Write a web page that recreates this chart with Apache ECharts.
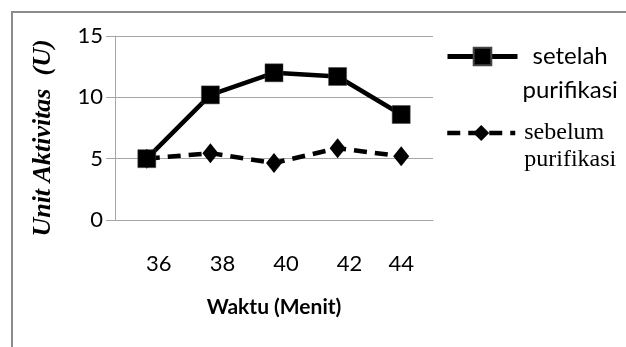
<!DOCTYPE html>
<html lang="id">
<head>
    <meta charset="UTF-8">
    <title>Unit Aktivitas</title>
    <script src="https://cdn.jsdelivr.net/npm/echarts@6/dist/echarts.min.js"></script>
    <style>
        html, body { margin: 0; padding: 0; background: #fff; }
        #chart { width: 626px; height: 347px; }
    </style>
</head>
<body>
    <div id="chart"></div>
    <script>
        // data
        const waktu = ['36', '38', '40', '42', '44'];
        const setelah = [5.0, 10.2, 12.0, 11.7, 8.6];
        const sebelum = [5.0, 5.45, 4.65, 5.85, 5.2];
        const yTicks = [0, 5, 10, 15];

        const gray = '#a6a6a6';
        const myEchart = echarts.init(document.querySelector('#chart'));

        const option = {
            animation: false,
            // outer frame
            graphic: [{
                type: 'rect',
                shape: { x: 12, y: 12, width: 700, height: 400 },
                style: { fill: 'none', stroke: '#8c8c8c', lineWidth: 2 },
                silent: true
            }],
            grid: { left: 115, top: 36, right: 193, bottom: 127 },
            legend: [
                {
                    left: 445, top: 10.5, padding: 0,
                    itemWidth: 70, itemHeight: 22,
                    data: ['setelah purifikasi'],
                    lineStyle: { width: 5 },
                    // blank first line so the icon lines up with "setelah"
                    formatter: name => '{c| }\n' + name.split(' ').map(s => '{c|' + s + '}').join('\n'),
                    textStyle: {
                        rich: {
                            c: { fontFamily: 'Lato', fontSize: 24, lineHeight: 34, color: '#000', align: 'center' }
                        }
                    }
                },
                {
                    left: 445, top: 94, padding: 0,
                    itemWidth: 68, itemHeight: 20,
                    data: ['sebelum purifikasi'],
                    lineStyle: { width: 4.5 },
                    formatter: name => '{c| }\n' + name.split(' ').map(s => '{c|' + s + '}').join('\n'),
                    textStyle: {
                        rich: {
                            c: { fontFamily: 'Liberation Serif', fontSize: 24, lineHeight: 27, color: '#000', padding: [0, 0, 0, 4] }
                        }
                    }
                }
            ],
            xAxis: {
                type: 'category',
                data: waktu,
                boundaryGap: true,
                name: 'Waktu (Menit)',
                nameLocation: 'middle',
                nameGap: 77,
                nameTextStyle: { fontFamily: 'Lato', fontWeight: 'bold', fontSize: 21, color: '#000' },
                axisLine: { lineStyle: { color: gray, width: 1 } },
                axisTick: { show: false },
                axisLabel: {
                    interval: 0,
                    hideOverlap: false,
                    margin: 33,
                    fontFamily: 'Lato', fontSize: 22, color: '#000',
                    // the first four labels sit a bit right of their points
                    formatter: (v, i) => i < 4 ? '{s|' + v + '}' : v,
                    rich: { s: { fontFamily: 'Lato', fontSize: 22, color: '#000', padding: [0, 0, 0, 24] } }
                }
            },
            yAxis: {
                type: 'value',
                min: yTicks[0],
                max: yTicks[yTicks.length - 1],
                interval: yTicks[1] - yTicks[0],
                name: 'Unit Aktivitas  (U)',
                nameLocation: 'middle',
                nameGap: 59,
                nameTextStyle: {
                    fontFamily: 'Liberation Serif', fontStyle: 'italic', fontWeight: 'bold',
                    fontSize: 26, color: '#000', padding: [0, 20, 0, 0]
                },
                axisLine: { show: true, lineStyle: { color: gray, width: 1 } },
                axisTick: { show: true, length: 9, lineStyle: { color: gray } },
                splitLine: { lineStyle: { color: gray, width: 1 } },
                axisLabel: { margin: 12, fontFamily: 'Lato', fontSize: 22, color: '#000' }
            },
            series: [
                {
                    name: 'sebelum purifikasi',
                    type: 'line',
                    data: sebelum,
                    symbol: 'diamond',
                    symbolSize: [16, 20],
                    itemStyle: { color: '#000' },
                    lineStyle: { color: '#000', width: 4.5, type: [13, 8] },
                    z: 2
                },
                {
                    name: 'setelah purifikasi',
                    type: 'line',
                    data: setelah,
                    symbol: 'rect',
                    symbolSize: 18,
                    itemStyle: { color: '#000', borderColor: '#444', borderWidth: 0.5 },
                    lineStyle: { color: '#000', width: 4.5 },
                    z: 3
                }
            ]
        };
        myEchart.setOption(option);
    </script>
</body>
</html>
